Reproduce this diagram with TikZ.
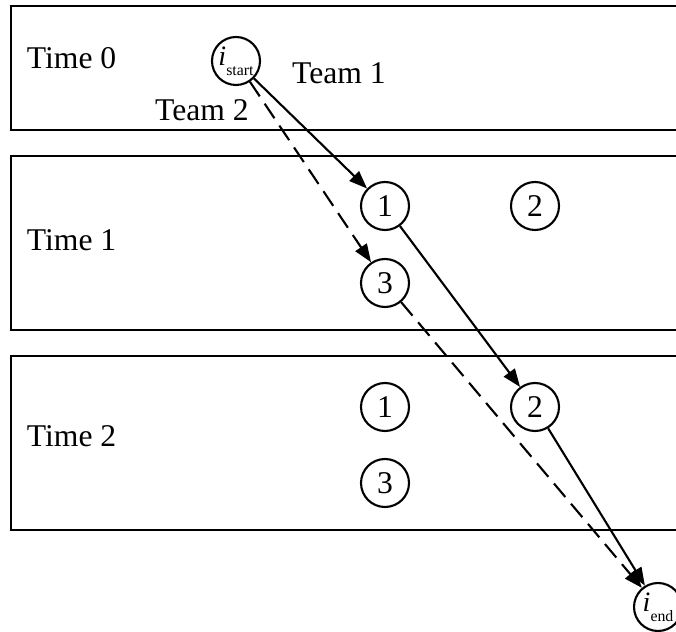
\documentclass[tikz,border=0pt]{standalone}
\usepackage{fontspec}
\setmainfont{Liberation Serif}
\usetikzlibrary{arrows.meta}

\begin{document}
\begin{tikzpicture}[line width=1.2pt,
  site/.style={draw,circle,minimum size=0.96cm,inner sep=0pt,font=\fontsize{18}{20}\selectfont},
  lbl/.style={font=\fontsize{18}{20}\selectfont},
  move/.style={-{Triangle[length=0.36cm,width=0.27cm]}},
  alt/.style={move,dash pattern=on 10pt off 5pt}]
\useasboundingbox (0,0) rectangle (13.52,12.62);
% one open box per time step
\foreach \hi/\lo in {12.5/10.02,9.5/6.02,5.5/2.02}
  \draw (13.6,\hi)--(0.22,\hi)--(0.22,\lo)--(13.6,\lo);
\node[lbl,anchor=west] (t0) at (0.4,11.46) {Time 0};
\node[lbl,anchor=west] (t1) at (0.4,7.82) {Time 1};
\node[lbl,anchor=west] (t2) at (0.4,3.9) {Time 2};
\node[site] (s) at (4.72,11.4) {{\fontsize{16}{18}\selectfont\itshape i}\raisebox{-0.7ex}{\fontsize{9}{10}\selectfont start}};
\node[site] (a1) at (7.7,8.5) {1};
\node[site] (a2) at (10.7,8.5) {2};
\node[site] (a3) at (7.7,6.96) {3};
\node[site] (b1) at (7.7,4.48) {1};
\node[site] (b2) at (10.7,4.48) {2};
\node[site] (b3) at (7.7,2.96) {3};
\node[site] (e) at (13.16,0.48) {{\fontsize{16}{18}\selectfont\itshape i}\raisebox{-0.7ex}{\fontsize{9}{10}\selectfont end}};
\node[lbl] (team1) at (6.78,11.16) {Team 1};
\node[lbl] (team2) at (4.04,10.42) {Team 2};
% team 1
\draw[move] (s)--(a1);
\draw[move] (a1)--(b2);
\draw[move] (b2)--(e);
% team 2
\draw[alt] (s)--(a3);
\draw[alt] (a3)--(e);
\end{tikzpicture}
\end{document}
